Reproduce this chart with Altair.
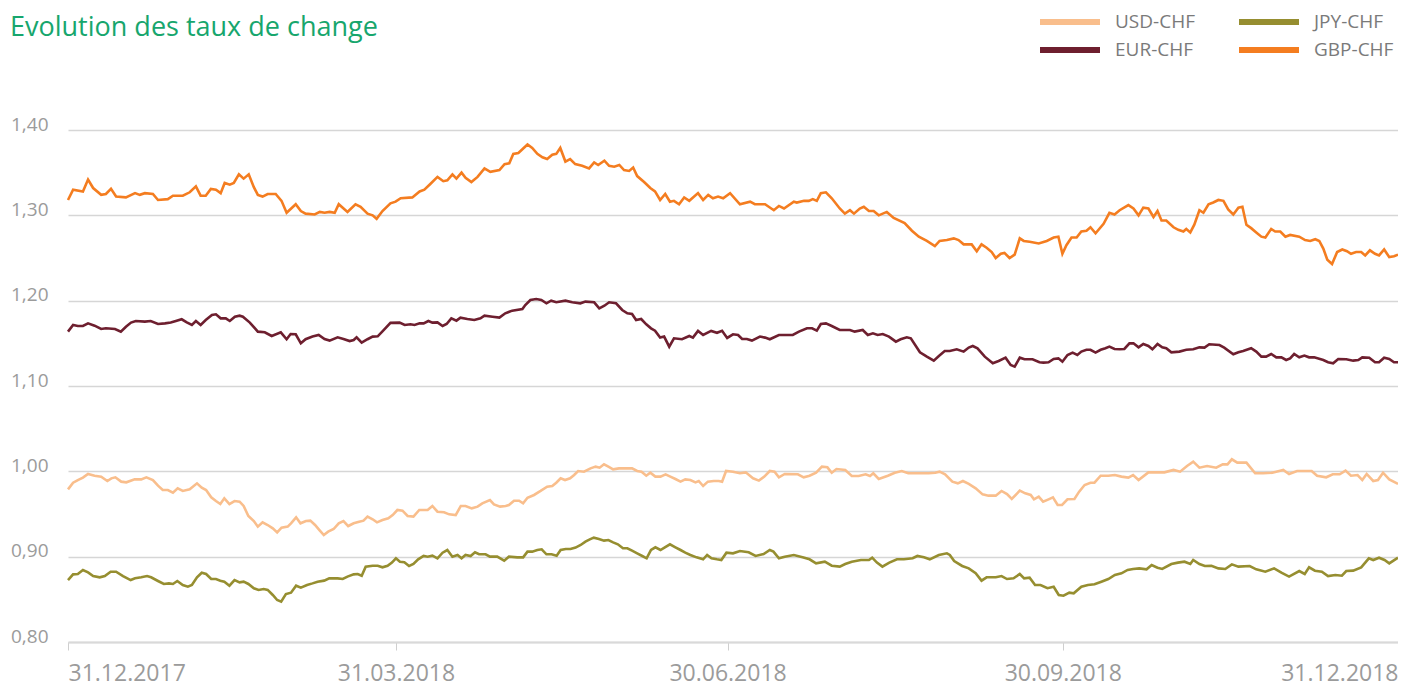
import altair as alt
import pandas as pd

START = pd.Timestamp("2017-12-31")

# (days after 31.12.2017, rate)
gbp = [(0.0,1.318),(1.4,1.330),(4.1,1.328),(5.5,1.342),(6.9,1.332),(9.1,1.324),(10.4,1.325),(11.8,1.331),(13.2,1.322),(15.9,1.321),(18.4,1.326),(19.7,1.324),(21.1,1.326),(23.3,1.325),(24.7,1.318),(27.4,1.319),(28.8,1.323),(31.5,1.323),(33.4,1.327),(35.1,1.334),(36.4,1.323),(37.8,1.323),(39.2,1.331),(40.6,1.330),(41.9,1.326),(43.0,1.338),(44.4,1.336),(45.5,1.338),(46.9,1.348),(48.2,1.343),(49.6,1.348),(51.0,1.333),(52.1,1.324),(53.4,1.322),(54.8,1.325),(57.0,1.325),(58.6,1.317),(60.0,1.303),(62.5,1.313),(63.9,1.305),(65.2,1.302),(67.7,1.301),(69.1,1.304),(70.4,1.303),(71.8,1.304),(73.2,1.303),(74.3,1.313),(76.7,1.304),(78.9,1.313),(80.3,1.310),(82.2,1.302),(83.6,1.300),(84.7,1.296),(86.3,1.305),(88.5,1.314),(89.9,1.316),(91.3,1.320),(94.5,1.321),(96.5,1.328),(97.8,1.330),(99.5,1.337),(101.4,1.345),(103.0,1.340),(104.1,1.341),(105.5,1.348),(106.6,1.343),(108.0,1.350),(109.1,1.344),(110.7,1.339),(112.4,1.345),(114.3,1.355),(115.9,1.351),(118.4,1.353),(119.8,1.360),(121.1,1.361),(122.2,1.372),(123.6,1.373),(126.1,1.383),(127.4,1.379),(128.8,1.372),(130.2,1.368),(131.5,1.366),(132.9,1.371),(134.0,1.372),(135.1,1.379),(136.5,1.363),(137.8,1.366),(139.2,1.360),(141.1,1.358),(143.0,1.355),(144.4,1.362),(145.5,1.359),(147.2,1.364),(148.5,1.358),(149.9,1.357),(151.3,1.359),(152.6,1.353),(154.0,1.352),(155.1,1.356),(156.2,1.346),(158.1,1.339),(159.8,1.332),(161.1,1.328),(162.5,1.318),(163.9,1.325),(165.2,1.316),(166.3,1.317),(167.7,1.313),(169.1,1.321),(170.5,1.317),(172.9,1.326),(174.3,1.318),(175.7,1.324),(177.0,1.320),(178.4,1.322),(179.8,1.320),(181.7,1.326),(184.4,1.313),(187.2,1.316),(188.5,1.313),(191.3,1.313),(193.7,1.306),(195.1,1.311),(196.5,1.308),(199.2,1.316),(200.0,1.315),(202.0,1.317),(203.3,1.317),(204.4,1.319),(205.5,1.317),(206.6,1.326),(208.0,1.327),(209.6,1.320),(211.8,1.308),(213.2,1.302),(214.6,1.306),(215.7,1.302),(217.3,1.308),(218.4,1.310),(219.8,1.305),(221.1,1.305),(222.5,1.300),(224.7,1.304),(226.6,1.297),(229.6,1.291),(231.6,1.282),(233.5,1.275),(235.7,1.270),(237.9,1.264),(239.2,1.270),(241.2,1.271),(243.1,1.273),(244.4,1.271),(245.8,1.266),(248.0,1.266),(249.4,1.258),(250.7,1.266),(252.1,1.262),(253.5,1.257),(254.6,1.250),(256.0,1.255),(257.0,1.256),(258.4,1.250),(259.8,1.254),(261.2,1.273),(262.3,1.270),(263.9,1.269),(266.4,1.267),(268.6,1.270),(270.5,1.274),(271.8,1.275),(272.9,1.255),(274.0,1.265),(275.4,1.274),(276.8,1.274),(278.1,1.281),(279.5,1.282),(280.6,1.286),(282.0,1.279),(284.2,1.290),(285.8,1.303),(287.2,1.301),(288.6,1.306),(291.0,1.312),(292.4,1.308),(293.8,1.300),(295.1,1.309),(296.5,1.308),(297.9,1.298),(299.0,1.305),(300.1,1.294),(301.4,1.294),(303.4,1.286),(304.7,1.283),(306.1,1.281),(306.9,1.284),(308.0,1.280),(309.1,1.289),(310.5,1.306),(311.6,1.303),(313.0,1.313),(314.3,1.315),(315.7,1.318),(317.1,1.317),(318.4,1.307),(319.8,1.301),(321.2,1.309),(322.3,1.310),(323.4,1.289),(324.7,1.285),(326.1,1.280),(327.5,1.275),(328.6,1.274),(330.2,1.284),(331.3,1.281),(332.7,1.281),(334.1,1.275),(335.4,1.277),(337.9,1.275),(339.5,1.271),(340.9,1.270),(342.3,1.272),(343.4,1.270),(344.5,1.261),(345.6,1.248),(346.9,1.243),(348.3,1.257),(349.7,1.260),(351.0,1.258),(352.1,1.255),(353.5,1.257),(354.9,1.257),(356.0,1.253),(357.3,1.259),(358.7,1.255),(359.8,1.253),(361.2,1.260),(362.6,1.251),(363.9,1.252),(365.0,1.254)]

eur = [(0.0,1.1637),(1.4,1.1715),(2.7,1.1703),(4.1,1.1703),(5.5,1.1734),(7.3,1.1707),(9.1,1.1668),(10.4,1.1676),(12.9,1.1668),(14.5,1.1637),(15.9,1.1695),(17.3,1.1743),(18.6,1.1762),(21.1,1.1754),(22.7,1.1762),(24.7,1.1727),(26.6,1.1734),(28.2,1.1743),(29.6,1.1762),(31.2,1.1782),(32.6,1.1746),(34.0,1.1715),(35.1,1.1762),(36.4,1.1715),(37.8,1.1773),(39.5,1.1832),(40.6,1.1840),(41.9,1.1793),(43.3,1.1793),(44.4,1.1762),(45.8,1.1812),(47.1,1.1824),(48.0,1.1812),(49.9,1.1743),(52.1,1.1637),(54.0,1.1629),(55.9,1.1586),(58.4,1.1629),(60.0,1.1548),(61.1,1.1609),(62.5,1.1606),(63.9,1.1500),(65.2,1.1548),(67.1,1.1579),(68.8,1.1598),(70.4,1.1551),(71.8,1.1532),(74.0,1.1571),(75.6,1.1551),(77.3,1.1527),(78.4,1.1539),(79.2,1.1571),(80.6,1.1508),(82.2,1.1548),(83.6,1.1579),(85.0,1.1582),(86.3,1.1640),(88.5,1.1740),(91.0,1.1743),(92.4,1.1715),(94.0,1.1723),(95.1,1.1715),(96.5,1.1734),(97.6,1.1734),(98.9,1.1762),(100.0,1.1743),(101.4,1.1746),(102.8,1.1703),(103.9,1.1727),(105.2,1.1793),(106.6,1.1766),(107.7,1.1801),(109.6,1.1785),(111.5,1.1773),(113.2,1.1793),(114.3,1.1824),(116.5,1.1812),(118.4,1.1801),(120.0,1.1852),(121.9,1.1883),(124.7,1.1902),(125.5,1.1949),(126.9,1.2008),(128.5,1.2020),(129.9,1.2008),(131.3,1.1969),(132.6,1.2000),(134.0,1.1981),(136.5,1.2000),(138.4,1.1981),(140.6,1.1969),(142.0,1.1989),(144.4,1.1981),(145.8,1.1910),(147.2,1.1941),(148.5,1.1981),(150.4,1.1969),(152.1,1.1891),(153.5,1.1852),(154.8,1.1844),(155.9,1.1773),(157.3,1.1785),(158.7,1.1723),(160.0,1.1676),(161.1,1.1649),(162.5,1.1567),(163.6,1.1579),(165.0,1.1461),(166.3,1.1559),(168.5,1.1548),(170.5,1.1586),(171.5,1.1567),(172.9,1.1645),(174.3,1.1598),(176.5,1.1645),(178.1,1.1624),(179.5,1.1647),(180.9,1.1563),(182.5,1.1606),(183.9,1.1598),(185.0,1.1551),(186.3,1.1551),(187.7,1.1532),(189.9,1.1579),(191.3,1.1567),(192.6,1.1548),(195.1,1.1598),(196.8,1.1598),(198.9,1.1598),(200.6,1.1637),(202.8,1.1676),(204.2,1.1676),(205.5,1.1649),(206.6,1.1727),(208.0,1.1734),(209.6,1.1703),(211.8,1.1656),(214.6,1.1656),(215.9,1.1637),(218.1,1.1656),(219.5,1.1598),(220.9,1.1618),(222.2,1.1598),(223.6,1.1609),(225.3,1.1579),(227.2,1.1520),(228.5,1.1548),(230.2,1.1571),(231.3,1.1559),(233.8,1.1395),(235.7,1.1344),(237.6,1.1297),(239.0,1.1352),(240.6,1.1410),(242.0,1.1410),(243.9,1.1430),(245.8,1.1403),(247.2,1.1450),(248.3,1.1469),(249.6,1.1442),(251.6,1.1344),(253.8,1.1266),(255.4,1.1293),(257.3,1.1332),(258.7,1.1246),(259.8,1.1227),(261.2,1.1332),(262.5,1.1313),(264.7,1.1313),(266.6,1.1278),(267.7,1.1274),(269.1,1.1278),(270.5,1.1317),(271.8,1.1324),(272.9,1.1285),(274.3,1.1363),(275.7,1.1391),(277.0,1.1363),(278.1,1.1403),(279.5,1.1424),(280.6,1.1424),(282.0,1.1391),(283.4,1.1424),(284.7,1.1442),(285.8,1.1461),(287.2,1.1434),(288.6,1.1430),(289.9,1.1434),(291.3,1.1500),(292.4,1.1500),(293.8,1.1453),(295.1,1.1492),(296.5,1.1469),(297.6,1.1430),(299.0,1.1492),(300.3,1.1453),(301.4,1.1442),(302.8,1.1395),(305.0,1.1403),(306.9,1.1424),(308.8,1.1430),(310.5,1.1453),(311.9,1.1450),(313.2,1.1489),(316.0,1.1480),(317.3,1.1450),(319.8,1.1372),(321.2,1.1395),(322.5,1.1410),(324.7,1.1442),(326.1,1.1403),(327.5,1.1344),(328.8,1.1344),(330.2,1.1375),(331.6,1.1336),(333.0,1.1336),(334.3,1.1305),(335.4,1.1324),(336.5,1.1375),(337.9,1.1336),(339.3,1.1356),(340.6,1.1336),(342.0,1.1336),(344.5,1.1305),(345.8,1.1278),(347.2,1.1266),(348.6,1.1317),(350.8,1.1313),(352.7,1.1297),(354.1,1.1305),(355.2,1.1336),(357.1,1.1332),(358.7,1.1278),(359.8,1.1278),(361.2,1.1332),(362.6,1.1317),(363.9,1.1278),(365.0,1.1278)]

usd = [(0.0,0.9789),(1.4,0.9867),(2.7,0.9898),(4.1,0.9926),(5.5,0.9969),(7.3,0.9949),(9.1,0.9938),(10.8,0.9887),(11.9,0.9918),(13.0,0.9930),(14.6,0.9879),(16.0,0.9871),(18.3,0.9906),(20.1,0.9906),(21.5,0.9930),(23.3,0.9898),(24.7,0.9832),(26.0,0.9781),(27.4,0.9781),(28.8,0.9750),(30.1,0.9801),(31.5,0.9770),(33.4,0.9789),(35.4,0.9859),(36.7,0.9808),(37.9,0.9781),(39.3,0.9695),(40.6,0.9652),(41.8,0.9617),(42.9,0.9684),(44.3,0.9617),(45.7,0.9652),(47.1,0.9644),(48.2,0.9594),(49.5,0.9477),(51.0,0.9418),(52.1,0.9352),(53.4,0.9402),(54.8,0.9371),(56.2,0.9332),(57.4,0.9285),(58.6,0.9340),(60.3,0.9352),(61.2,0.9391),(62.6,0.9461),(63.8,0.9391),(65.3,0.9418),(66.5,0.9422),(67.8,0.9371),(69.0,0.9312),(70.2,0.9254),(71.4,0.9293),(72.9,0.9324),(74.3,0.9391),(75.6,0.9418),(76.9,0.9359),(78.4,0.9391),(79.9,0.9410),(81.1,0.9422),(82.2,0.9469),(83.6,0.9438),(84.8,0.9402),(86.3,0.9430),(87.9,0.9449),(89.1,0.9488),(90.4,0.9547),(91.8,0.9539),(93.2,0.9477),(94.8,0.9469),(96.4,0.9547),(98.7,0.9547),(100.0,0.9594),(101.4,0.9527),(103.2,0.9520),(104.6,0.9496),(106.4,0.9488),(107.8,0.9594),(109.1,0.9594),(110.8,0.9566),(112.4,0.9586),(113.7,0.9625),(115.8,0.9664),(116.9,0.9613),(118.6,0.9586),(120.1,0.9594),(121.0,0.9605),(122.4,0.9656),(123.8,0.9656),(124.9,0.9625),(126.1,0.9691),(127.9,0.9723),(129.7,0.9770),(131.5,0.9820),(132.9,0.9828),(134.0,0.9867),(135.2,0.9918),(136.4,0.9898),(137.8,0.9918),(138.9,0.9957),(140.0,1.0004),(141.6,0.9996),(143.4,1.0035),(144.8,1.0055),(145.9,1.0043),(147.1,1.0082),(148.3,1.0055),(149.6,1.0024),(151.2,1.0035),(153.0,1.0035),(154.8,1.0035),(156.2,1.0004),(157.4,0.9996),(158.7,0.9949),(159.8,0.9984),(161.2,0.9938),(162.6,0.9938),(164.0,0.9965),(165.3,0.9938),(166.7,0.9910),(168.1,0.9879),(169.4,0.9906),(170.8,0.9898),(172.2,0.9871),(173.1,0.9887),(174.3,0.9828),(175.6,0.9879),(177.2,0.9887),(178.6,0.9887),(179.5,0.9879),(180.6,1.0004),(182.5,0.9996),(184.4,0.9977),(186.0,0.9988),(188.0,0.9918),(189.6,0.9891),(191.1,0.9938),(192.6,1.0004),(193.9,0.9996),(195.1,0.9930),(196.7,0.9969),(200.3,0.9965),(201.9,0.9930),(203.5,0.9949),(205.3,0.9984),(206.9,1.0055),(208.4,1.0047),(209.6,0.9984),(210.9,1.0027),(213.3,1.0016),(215.1,0.9945),(217.0,0.9945),(218.9,0.9965),(220.1,0.9945),(221.0,0.9977),(222.5,0.9910),(225.0,0.9949),(226.9,0.9984),(228.8,1.0004),(230.6,0.9977),(233.1,0.9977),(236.2,0.9977),(238.0,0.9984),(239.2,0.9996),(240.7,0.9965),(242.7,0.9879),(244.2,0.9859),(245.6,0.9887),(247.2,0.9852),(249.1,0.9801),(251.0,0.9730),(252.6,0.9715),(254.6,0.9715),(256.2,0.9770),(257.7,0.9734),(259.0,0.9676),(261.2,0.9773),(262.7,0.9742),(264.2,0.9723),(265.1,0.9672),(266.4,0.9703),(267.6,0.9644),(269.1,0.9672),(270.3,0.9695),(271.6,0.9606),(272.8,0.9606),(274.3,0.9672),(276.2,0.9676),(277.5,0.9762),(279.0,0.9840),(280.6,0.9867),(281.7,0.9867),(283.4,0.9949),(285.5,0.9949),(287.3,0.9957),(289.1,0.9938),(291.0,0.9926),(292.3,0.9957),(293.8,0.9898),(296.5,0.9988),(300.9,0.9988),(303.4,1.0016),(305.2,0.9996),(307.1,1.0063),(308.8,1.0114),(310.5,1.0043),(312.6,1.0063),(315.1,1.0043),(316.9,1.0082),(318.2,1.0082),(319.4,1.0141),(320.9,1.0102),(323.4,1.0102),(325.8,0.9977),(328.0,0.9977),(330.5,0.9984),(332.7,1.0008),(333.5,1.0016),(335.1,0.9969),(337.3,1.0004),(341.3,1.0004),(342.8,0.9949),(345.3,0.9930),(347.1,0.9965),(349.0,0.9965),(350.6,1.0008),(352.1,0.9949),(353.9,0.9957),(355.2,0.9898),(356.4,0.9969),(358.2,0.9887),(359.5,0.9898),(360.9,0.9984),(362.6,0.9906),(365.0,0.9852)]

jpy = [(0.0,0.8726),(1.4,0.8793),(2.7,0.8797),(4.1,0.8844),(5.5,0.8816),(6.9,0.8773),(8.7,0.8758),(10.1,0.8773),(11.7,0.8824),(13.2,0.8824),(15.1,0.8773),(17.2,0.8726),(18.4,0.8746),(20.1,0.8758),(21.7,0.8773),(22.8,0.8758),(24.7,0.8715),(26.3,0.8680),(27.7,0.8687),(28.8,0.8680),(30.0,0.8715),(31.5,0.8668),(32.9,0.8648),(34.0,0.8668),(35.4,0.8758),(36.7,0.8812),(37.9,0.8797),(39.3,0.8738),(40.6,0.8738),(41.8,0.8719),(42.9,0.8707),(44.3,0.8660),(45.7,0.8726),(47.1,0.8699),(48.2,0.8707),(49.5,0.8680),(51.0,0.8630),(52.3,0.8610),(53.7,0.8621),(54.8,0.8610),(56.2,0.8551),(57.4,0.8492),(58.5,0.8473),(59.8,0.8562),(61.2,0.8578),(62.6,0.8660),(63.9,0.8637),(65.6,0.8668),(67.1,0.8687),(68.5,0.8707),(70.3,0.8719),(71.7,0.8746),(74.0,0.8746),(75.4,0.8738),(76.7,0.8766),(78.4,0.8793),(79.5,0.8797),(80.6,0.8777),(81.7,0.8883),(83.6,0.8894),(85.0,0.8894),(86.3,0.8875),(87.7,0.8894),(88.9,0.8930),(90.0,0.8981),(91.1,0.8941),(92.3,0.8934),(93.6,0.8891),(94.8,0.8914),(96.1,0.8969),(97.6,0.9008),(98.7,0.9000),(100.0,0.9012),(101.4,0.8981),(102.8,0.9047),(104.1,0.9078),(105.5,0.9000),(106.9,0.9020),(108.0,0.8981),(109.1,0.9020),(110.5,0.9008),(111.7,0.9051),(112.8,0.9028),(114.6,0.9028),(115.8,0.9000),(117.8,0.9000),(119.7,0.8953),(121.0,0.9000),(123.3,0.8992),(124.9,0.8992),(126.1,0.9059),(127.4,0.9059),(128.8,0.9078),(130.0,0.9086),(131.3,0.9028),(132.7,0.9028),(134.1,0.9012),(135.2,0.9078),(136.6,0.9090),(137.9,0.9090),(139.3,0.9106),(140.7,0.9137),(142.0,0.9176),(143.2,0.9203),(144.3,0.9223),(145.7,0.9207),(147.1,0.9188),(148.3,0.9195),(149.6,0.9168),(150.9,0.9145),(152.3,0.9098),(153.5,0.9098),(154.8,0.9070),(156.2,0.9039),(157.6,0.9008),(158.8,0.8981),(160.0,0.9078),(161.2,0.9110),(162.6,0.9078),(163.8,0.9110),(165.2,0.9145),(166.7,0.9110),(168.1,0.9078),(169.4,0.9047),(170.8,0.9020),(172.5,0.8992),(174.3,0.8969),(175.4,0.9020),(176.6,0.8981),(178.1,0.8969),(179.3,0.8961),(180.7,0.9047),(182.5,0.9039),(184.4,0.9066),(186.8,0.9051),(188.7,0.9008),(190.9,0.9031),(192.6,0.9078),(193.6,0.9059),(195.1,0.8981),(196.7,0.9000),(199.2,0.9020),(201.6,0.8992),(203.5,0.8969),(205.3,0.8922),(207.7,0.8941),(209.6,0.8894),(211.8,0.8883),(213.3,0.8914),(215.1,0.8941),(217.6,0.8961),(219.8,0.8961),(220.7,0.8988),(222.0,0.8930),(223.5,0.8883),(225.4,0.8930),(227.5,0.8969),(229.4,0.8969),(231.8,0.8981),(233.1,0.9008),(234.9,0.8992),(236.5,0.8969),(239.0,0.9020),(241.2,0.9039),(242.0,0.9020),(243.2,0.8949),(245.4,0.8891),(247.2,0.8863),(249.1,0.8805),(250.7,0.8719),(252.1,0.8758),(254.6,0.8758),(256.2,0.8773),(257.7,0.8738),(259.5,0.8746),(261.2,0.8797),(262.4,0.8746),(263.9,0.8754),(265.4,0.8668),(266.9,0.8668),(268.8,0.8630),(270.5,0.8648),(271.9,0.8551),(273.2,0.8543),(274.8,0.8578),(276.0,0.8571),(278.1,0.8648),(279.9,0.8668),(281.7,0.8676),(283.6,0.8707),(285.5,0.8738),(287.3,0.8785),(289.1,0.8805),(290.8,0.8844),(292.3,0.8856),(294.0,0.8863),(296.0,0.8852),(297.4,0.8902),(299.0,0.8871),(300.3,0.8856),(302.8,0.8914),(304.6,0.8930),(306.4,0.8941),(308.0,0.8914),(308.8,0.8961),(310.5,0.8914),(312.0,0.8891),(313.8,0.8894),(315.7,0.8863),(317.6,0.8856),(319.4,0.8910),(321.2,0.8883),(324.3,0.8891),(326.1,0.8852),(328.6,0.8824),(331.0,0.8863),(333.0,0.8812),(335.1,0.8766),(337.9,0.8832),(339.4,0.8797),(340.6,0.8875),(342.2,0.8836),(344.1,0.8824),(345.8,0.8773),(347.8,0.8785),(349.6,0.8777),(350.8,0.8832),(352.7,0.8836),(354.9,0.8875),(357.0,0.8981),(358.2,0.8961),(359.8,0.8988),(361.3,0.8961),(362.6,0.8922),(365.0,0.8988)]

# legend order (filled column-wise by Vega): USD, EUR | JPY, GBP
pairs = ["USD-CHF", "EUR-CHF", "JPY-CHF", "GBP-CHF"]
pair_colors = ["#f9be8c", "#6e1f2f", "#968e30", "#f47d20"]
series_data = {"USD-CHF": usd, "JPY-CHF": jpy, "EUR-CHF": eur, "GBP-CHF": gbp}
y_ticks = [0.8, 0.9, 1.0, 1.1, 1.2, 1.3, 1.4]
x_ticks = [(2017, 12, 31), (2018, 3, 31), (2018, 6, 30), (2018, 9, 30), (2018, 12, 31)]

rows = []
for name in pairs:
    for d, v in series_data[name]:
        rows.append({"date": START + pd.Timedelta(days=d), "rate": v, "pair": name})
df = pd.DataFrame(rows)

FONT = "Open Sans"
GREY = "#9b9b9b"

x_vals = [alt.DateTime(year=y, month=m, date=d) for (y, m, d) in x_ticks]

chart = alt.Chart(df).mark_line(strokeWidth=2.6).encode(
    x=alt.X("date:T", title=None,
            scale=alt.Scale(domain=[x_vals[0], x_vals[-1]]),
            axis=alt.Axis(values=x_vals, format="%d.%m.%Y", labelFlush=True, grid=False,
                          domainColor="#d9d9d9", domainWidth=2, tickColor="#cfcfcf", tickWidth=1,
                          tickSize=8, labelFontSize=23, labelColor=GREY, labelFont=FONT,
                          labelPadding=12)),
    y=alt.Y("rate:Q", title=None,
            scale=alt.Scale(domain=[0.8, 1.4], nice=False, zero=False),
            axis=alt.Axis(values=y_ticks, labelExpr="replace(format(datum.value, '.2f'), '.', ',')",
                          domain=False, ticks=False, gridColor="#d6d6d6", gridWidth=1.5,
                          labelFontSize=19, labelColor=GREY, labelFont=FONT, labelPadding=20,
                          labelBaseline="alphabetic")),
    color=alt.Color("pair:N", scale=alt.Scale(domain=pairs, range=pair_colors),
                    legend=alt.Legend(title=None, orient="none", legendX=969, legendY=-119,
                                      columns=2, symbolType="stroke", symbolSize=3600,
                                      symbolStrokeWidth=6, labelFontSize=19, labelFont=FONT,
                                      labelColor="#7a7a7a", labelOffset=12, columnPadding=41,
                                      rowPadding=6, clipHeight=22, padding=0)),
).properties(
    width=1330, height=512,
    title=alt.TitleParams("Evolution des taux de change", anchor="start", frame="group",
                          fontSize=27, font=FONT, fontWeight="normal", color="#17a66d",
                          dx=-58, dy=52, offset=0, baseline="alphabetic"),
    padding={"left": 60, "top": 122, "right": 0, "bottom": 45},
    autosize=alt.AutoSizeParams(type="none"),
).configure_view(stroke=None)

chart.save("out.html", embed_options={"renderer": "svg", "actions": False})
